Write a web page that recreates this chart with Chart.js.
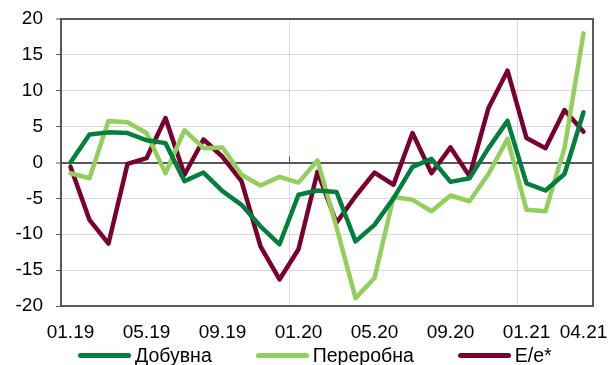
<!DOCTYPE html>
<html>
<head>
<meta charset="utf-8">
<script src="https://cdn.jsdelivr.net/npm/chart.js@4/dist/chart.umd.min.js"></script>
<style>
html, body { margin: 0; padding: 0; background: #fff; overflow: hidden; }
#wrap { position: relative; width: 616px; height: 365px; overflow: hidden; font-family: "Liberation Sans", Arial, sans-serif; }
canvas { display: block; }
#legend { position: absolute; left: 78px; top: 345px; height: 20px; display: flex; align-items: center; font-size: 19.5px; color: #000; line-height: 20px; }
#legend .item { display: flex; align-items: center; margin-right: 44px; }
#legend .swatch { display: inline-block; width: 53px; height: 5px; border-radius: 3px; margin-right: 4px; }
</style>
</head>
<body>
<div id="wrap">
  <canvas id="lineChart" width="616" height="365"></canvas>
  <div id="legend"></div>
</div>
<script>
// months on the x axis, only some of them get a label
var months = ['01.19', '02.19', '03.19', '04.19', '05.19', '06.19', '07.19', '08.19', '09.19', '10.19', '11.19', '12.19',
    '01.20', '02.20', '03.20', '04.20', '05.20', '06.20', '07.20', '08.20', '09.20', '10.20', '11.20', '12.20',
    '01.21', '02.21', '03.21', '04.21'];
var shownTicks = ['01.19', '05.19', '09.19', '01.20', '05.20', '09.20', '01.21', '04.21'];

var dobuvna = [0, 3.9, 4.2, 4.1, 3.1, 2.7, -2.6, -1.4, -4.0, -5.9, -8.9, -11.4,
    -4.5, -3.9, -4.1, -11.0, -8.7, -5.0, -0.6, 0.5, -2.7, -2.2, 2.0, 5.8,
    -2.9, -3.9, -1.6, 7.0];
var pererobna = [-1.5, -2.2, 5.8, 5.6, 4.1, -1.5, 4.5, 2.0, 2.1, -1.7, -3.2, -2.0,
    -2.8, 0.3, -9.0, -18.9, -16.1, -4.8, -5.2, -6.8, -4.6, -5.4, -1.6, 3.3,
    -6.6, -6.8, 2.0, 18.0];
var ee = [-0.6, -8.0, -11.3, -0.2, 0.6, 6.2, -1.7, 3.2, 0.8, -2.6, -11.7, -16.3,
    -12.1, -1.3, -8.4, -4.7, -1.4, -3.1, 4.1, -1.5, 2.1, -1.9, 7.6, 12.8,
    3.4, 2.0, 7.3, 4.3];

var seriesNames = ['Добувна', 'Переробна', 'E/e*'];
var seriesColors = ['#007F3D', '#92CF5C', '#7A0030'];
var yMin = -20, yMax = 20, yStep = 5;
var yearStarts = [12, 24];

var fontFamily = '"Liberation Sans", Arial, sans-serif';
var axisColor = '#595959';
var gridColor = '#d9d9d9';

// top/right edge of the plot + small year marks on the zero line
var framePlugin = {
    id: 'frame',
    afterDatasetsDraw: function (chart) {
        var a = chart.chartArea;
        var c = chart.ctx;
        var x = chart.scales.x, y = chart.scales.y;
        c.save();
        c.strokeStyle = axisColor;
        c.lineWidth = 2;
        c.lineCap = 'square';
        c.beginPath();
        c.moveTo(a.left, a.top);
        c.lineTo(a.right, a.top);
        c.lineTo(a.right, a.bottom);
        c.stroke();
        c.lineWidth = 1;
        c.lineCap = 'butt';
        c.beginPath();
        var y0 = y.getPixelForValue(0);
        yearStarts.forEach(function (i) {
            var px = Math.round((x.getPixelForValue(i - 1) + x.getPixelForValue(i)) / 2) + 0.5;
            c.moveTo(px, y0);
            c.lineTo(px, y0 - 6);
        });
        c.stroke();
        c.restore();
    }
};

var ctxL = document.getElementById('lineChart').getContext('2d');
var datasets = [dobuvna, pererobna, ee].map(function (d, i) {
    return {
        label: seriesNames[i],
        data: d,
        borderColor: seriesColors[i],
        backgroundColor: seriesColors[i],
        borderWidth: 4.5,
        pointRadius: 0,
        tension: 0,
        fill: false,
        borderJoinStyle: 'round',
        borderCapStyle: 'round'
    };
});

var myLineChart = new Chart(ctxL, {
    type: 'line',
    data: { labels: months, datasets: datasets },
    options: {
        responsive: false,
        animation: false,
        devicePixelRatio: 1,
        layout: { padding: { top: 19, right: 23, left: 0, bottom: 0 } },
        plugins: { legend: { display: false }, tooltip: { enabled: false } },
        scales: {
            x: {
                offset: true,
                grid: {
                    offset: true,
                    drawTicks: false,
                    color: function (c) { return yearStarts.indexOf(c.index) >= 0 ? gridColor : 'rgba(0,0,0,0)'; },
                    lineWidth: 1
                },
                border: { color: axisColor, width: 2 },
                ticks: {
                    autoSkip: false,
                    maxRotation: 0,
                    padding: 15,
                    color: '#000',
                    font: { family: fontFamily, size: 19 },
                    callback: function (v, i) { return shownTicks.indexOf(months[i]) >= 0 ? months[i] : ''; }
                },
                // fixed height, no extra side padding for labels
                afterFit: function (s) { s.height = 59; s.paddingLeft = 0; s.paddingRight = 0; }
            },
            y: {
                min: yMin,
                max: yMax,
                grid: {
                    color: function (c) { return (c.tick.value === 0 || c.tick.value === yMax) ? axisColor : gridColor; },
                    lineWidth: function (c) { return (c.tick.value === 0 || c.tick.value === yMax) ? 2 : 1; },
                    tickLength: 5,
                    tickColor: axisColor,
                    tickWidth: 1
                },
                border: { color: axisColor, width: 2 },
                ticks: {
                    stepSize: yStep,
                    padding: 13,
                    color: '#000',
                    font: { family: fontFamily, size: 19 }
                },
                afterFit: function (s) { s.width = 61; s.paddingTop = 0; s.paddingBottom = 0; }
            }
        }
    },
    plugins: [framePlugin]
});

// legend under the chart
var legend = document.getElementById('legend');
seriesNames.forEach(function (name, i) {
    var item = document.createElement('div');
    item.className = 'item';
    var sw = document.createElement('span');
    sw.className = 'swatch';
    sw.style.background = seriesColors[i];
    var txt = document.createElement('span');
    txt.textContent = name;
    item.appendChild(sw);
    item.appendChild(txt);
    legend.appendChild(item);
});
</script>
</body>
</html>
